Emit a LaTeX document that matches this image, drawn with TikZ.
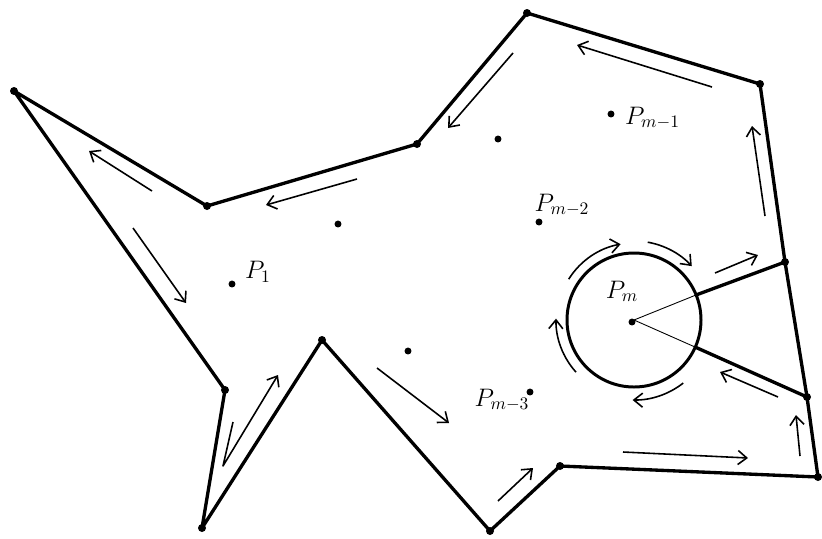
\documentclass[tikz,border=0pt]{standalone}
\usetikzlibrary{arrows.meta}
\begin{document}
\begin{tikzpicture}[x=0.02cm, y=-0.02cm,
    wall/.style={line width=1.9pt, line join=round},
    flow/.style={line width=0.9pt, -{Straight Barb[length=5pt,width=8pt]}},
    site/.style={circle, fill, inner sep=1.4pt},
    lab/.style={font=\Large}]
    \useasboundingbox (0,0) rectangle (822,538);
    % outer boundary
    \coordinate (a) at (14,91);
    \coordinate (b) at (207,206);
    \coordinate (c) at (417,144);
    \coordinate (d) at (527,13);
    \coordinate (e) at (760,84);
    \coordinate (f) at (785,262);
    \coordinate (g) at (807,397);
    \coordinate (h) at (818,477);
    \coordinate (i) at (560,466);
    \coordinate (j) at (490,531);
    \coordinate (k) at (322,340);
    \coordinate (l) at (202,528);
    \coordinate (m) at (225,390);
    \draw[wall] (a) -- (b) -- (c) -- (d) -- (e) -- (f) -- (g) -- (h) -- (i) -- (j) -- (k) -- (l) -- (m) -- cycle;
    \foreach \v in {a,b,c,d,e,f,g,h,i,j,k,l,m}
        \fill (\v) circle[radius=4];
    % the hole and its two cuts
    \coordinate (pm) at (634,320);
    \coordinate (s1) at (696,295);
    \coordinate (s2) at (695,347);
    \draw[line width=1.7pt] (pm) circle[radius=67];
    \draw[wall] (f) -- (s1);
    \draw[wall] (g) -- (s2);
    \draw[line width=0.5pt] (s1) -- (pm) -- (s2);
    % points
    \node[site] (cm) at (632,322) {};
    \node[lab, anchor=south] (lm) at (622,308) {$P_m$};
    \node[site] (p1) at (232,284) {};
    \node[lab, anchor=west] (l1) at (239,272) {$P_1$};
    \node[site] (q1) at (611,114) {};
    \node[lab, anchor=west] (lq1) at (619,118) {$P_{m-1}$};
    \node[site] (q2) at (539,222) {};
    \node[lab] (lq2) at (562,205) {$P_{m-2}$};
    \node[site] (q3) at (530,392) {};
    \node[lab] (lq3) at (502,400) {$P_{m-3}$};
    \node[site] (x1) at (338,224) {};
    \node[site] (x2) at (498,139) {};
    \node[site] (x3) at (408,351) {};
    % walk along the boundary
    \draw[flow] (152,191) -- (89,151);
    \draw[flow] (133,228) -- (186,303);
    \draw[flow] (357,179) -- (266,205);
    \draw[flow] (513,53) -- (448,128);
    \draw[flow] (712,87) -- (577,45);
    \draw[flow] (765,216) -- (752,126);
    \draw[flow] (715,273) -- (758,255);
    \draw[flow] (778,397) -- (720,372);
    \draw[flow] (800,456) -- (796,415);
    \draw[flow] (623,452) -- (748,458);
    \draw[flow] (498,501) -- (533,468);
    \draw[flow] (377,368) -- (449,423);
    \draw[flow, line join=round] (233,422) -- (223,466) -- (278,375);
    % around the hole
    \draw[flow] ([shift={(138:78)}]pm) arc[start angle=138, end angle=181, radius=78];
    \draw[flow] ([shift={(212:77)}]pm) arc[start angle=212, end angle=260, radius=77];
    \draw[flow] ([shift={(280:79)}]pm) arc[start angle=280, end angle=317, radius=79];
    \draw[flow] ([shift={(52:80)}]pm) arc[start angle=52, end angle=91, radius=80];
\end{tikzpicture}
\end{document}
